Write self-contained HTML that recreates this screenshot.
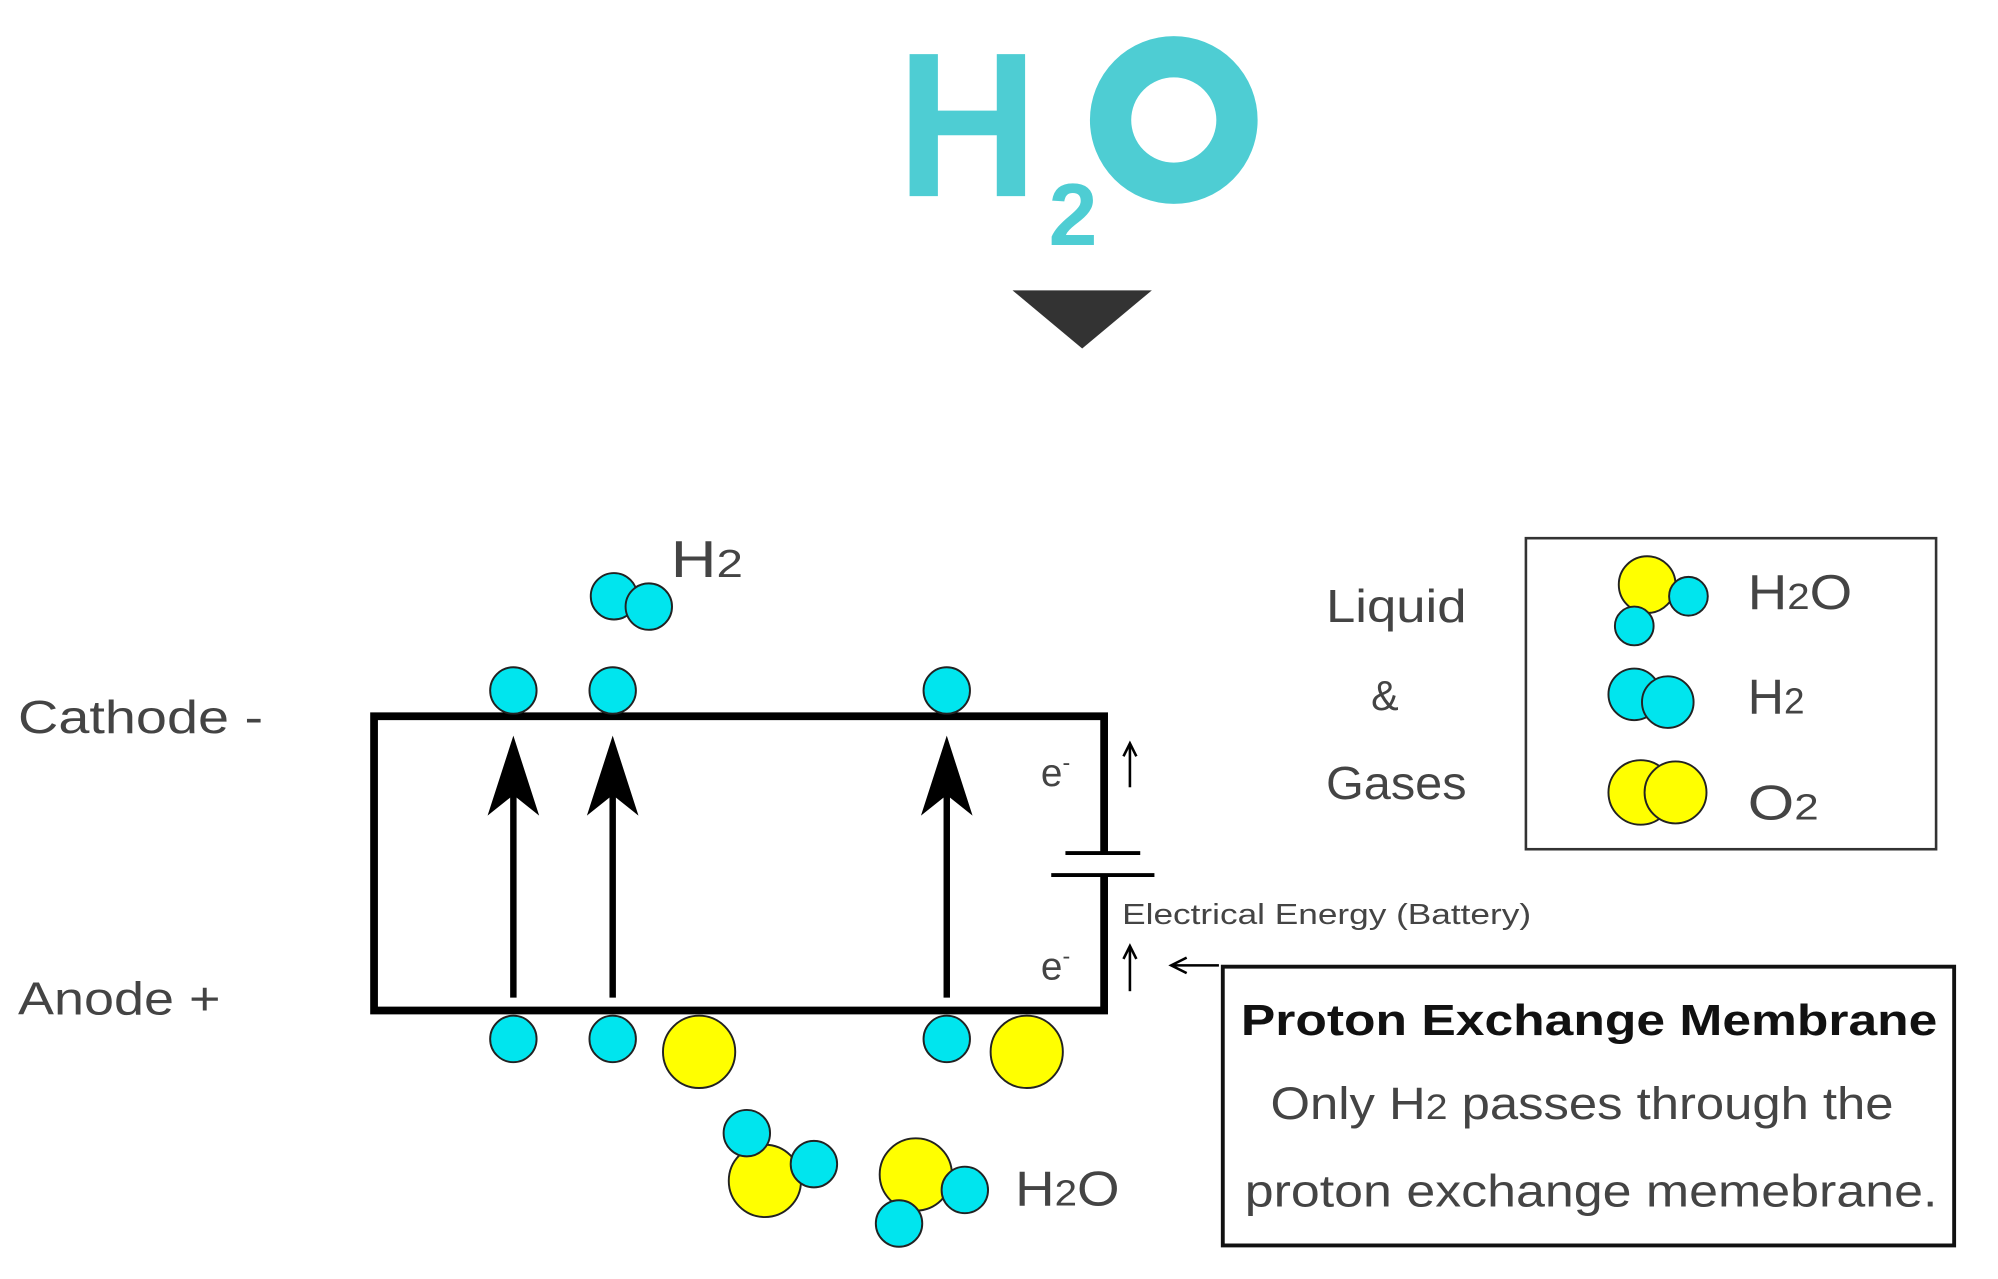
<!DOCTYPE html>
<html><head><style>html,body{margin:0;padding:0;background:#fff;}svg{display:block}</style></head>
<body>
<svg width="1998" height="1279" viewBox="0 0 1549 991" preserveAspectRatio="none" xmlns="http://www.w3.org/2000/svg" font-family="Liberation Sans, sans-serif">
<text x="695" y="152" font-size="160" font-weight="bold" fill="#4ecdd3" textLength="110" lengthAdjust="spacingAndGlyphs">H</text>
<text x="813" y="190" font-size="68" font-weight="bold" fill="#4ecdd3">2</text>
<circle cx="910" cy="93" r="49" fill="none" stroke="#4ecdd3" stroke-width="32"/>
<polygon points="785,225 893,225 839,270" fill="#333"/>
<g stroke="#000" stroke-width="6" fill="none">
<polyline points="856,661 856,555 290,555 290,783 856,783 856,678"/>
</g>
<g stroke="#000" stroke-width="3">
<line x1="826" y1="661" x2="884" y2="661"/>
<line x1="815" y1="678" x2="895" y2="678"/>
</g>
<g stroke="#000" stroke-width="5">
<line x1="398" y1="773" x2="398" y2="590"/>
<line x1="475" y1="773" x2="475" y2="590"/>
<line x1="734" y1="773" x2="734" y2="590"/>
</g>
<g fill="#000">
<path d="M398,570 L418,632 L398,616 L378,632Z"/>
<path d="M475,570 L495,632 L475,616 L455,632Z"/>
<path d="M734,570 L754,632 L734,616 L714,632Z"/>
</g>
<g stroke="#000" stroke-width="2" fill="none">
<line x1="876" y1="610" x2="876" y2="578"/><path d="M871,586 L876,576 L881,586"/>
<line x1="876" y1="768" x2="876" y2="735"/><path d="M871,743 L876,733 L881,743"/>
<line x1="945" y1="748" x2="910" y2="748"/><path d="M920,742 L908,748 L920,754"/>
</g>
<g stroke="#222" stroke-width="1.5">
<g fill="#00e5ee">
<circle cx="398" cy="535" r="18"/><circle cx="475" cy="535" r="18"/><circle cx="734" cy="535" r="18"/>
<circle cx="398" cy="805" r="18"/><circle cx="475" cy="805" r="18"/><circle cx="734" cy="805" r="18"/>
<circle cx="476" cy="462" r="18"/><circle cx="503" cy="470" r="18"/>
</g>
<g fill="#ffff00">
<circle cx="542" cy="815" r="28"/><circle cx="796" cy="815" r="28"/>
<circle cx="593" cy="915" r="28"/><circle cx="710" cy="910" r="28"/>
</g>
<g fill="#00e5ee">
<circle cx="579" cy="878" r="18"/><circle cx="631" cy="902" r="18"/>
<circle cx="748" cy="922" r="18"/><circle cx="697" cy="948" r="18"/>
</g>
<circle cx="1277" cy="453" r="22" fill="#ffff00"/>
<circle cx="1309" cy="462" r="15" fill="#00e5ee"/><circle cx="1267" cy="485" r="15" fill="#00e5ee"/>
<circle cx="1267" cy="538" r="20" fill="#00e5ee"/><circle cx="1293" cy="544" r="20" fill="#00e5ee"/>
<circle cx="1272" cy="614" r="25" fill="#ffff00"/><circle cx="1299" cy="614" r="24" fill="#ffff00"/>
</g>
<rect x="1183" y="417" width="318" height="241" fill="none" stroke="#333" stroke-width="2"/>
<rect x="948" y="749" width="567" height="216" fill="none" stroke="#111" stroke-width="3"/>
<g fill="#444" lengthAdjust="spacingAndGlyphs">
<text x="520" y="447" font-size="40" textLength="56" lengthAdjust="spacingAndGlyphs">H<tspan font-size="30">2</tspan></text>
<text x="14" y="568" font-size="36" textLength="190" lengthAdjust="spacingAndGlyphs">Cathode -</text>
<text x="14" y="786" font-size="36" textLength="157" lengthAdjust="spacingAndGlyphs">Anode +</text>
<text x="807" y="609" font-size="30">e<tspan font-size="18" dy="-12">-</tspan></text>
<text x="807" y="759" font-size="30">e<tspan font-size="18" dy="-12">-</tspan></text>
<text x="870" y="716" font-size="22" textLength="317" lengthAdjust="spacingAndGlyphs">Electrical Energy (Battery)</text>
<text x="787" y="934" font-size="38" textLength="81" lengthAdjust="spacingAndGlyphs">H<tspan font-size="28">2</tspan>O</text>
<text x="1028" y="482" font-size="36" textLength="109" lengthAdjust="spacingAndGlyphs">Liquid</text>
<text x="1063" y="550" font-size="32">&amp;</text>
<text x="1028" y="619" font-size="36" textLength="109" lengthAdjust="spacingAndGlyphs">Gases</text>
<text x="1355" y="472" font-size="38" textLength="81" lengthAdjust="spacingAndGlyphs">H<tspan font-size="28">2</tspan>O</text>
<text x="1355" y="553" font-size="38" textLength="44" lengthAdjust="spacingAndGlyphs">H<tspan font-size="28">2</tspan></text>
<text x="1355" y="635" font-size="38" textLength="55" lengthAdjust="spacingAndGlyphs">O<tspan font-size="28">2</tspan></text>
<text x="985" y="867" font-size="35" textLength="483" lengthAdjust="spacingAndGlyphs">Only H<tspan font-size="27">2</tspan> passes through the</text>
<text x="965" y="935" font-size="35" textLength="537" lengthAdjust="spacingAndGlyphs">proton exchange memebrane.</text>
</g>
<text x="962" y="802" font-size="34" font-weight="bold" fill="#111" textLength="540" lengthAdjust="spacingAndGlyphs">Proton Exchange Membrane</text>
</svg>
</body></html>
